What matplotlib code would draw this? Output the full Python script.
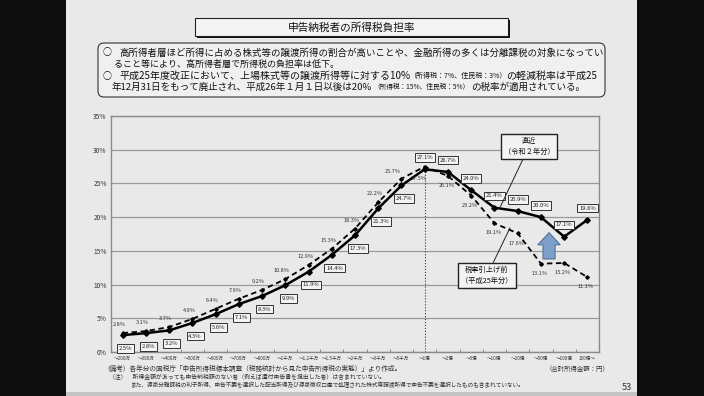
import matplotlib
matplotlib.use('Agg')
import matplotlib.pyplot as plt
from matplotlib.patches import Rectangle, FancyBboxPatch, Polygon
import numpy as np

plt.rcParams['font.family'] = ['Noto Sans CJK JP', 'DejaVu Sans']

# ---------------- data ----------------
categories = ['～200万', '～300万', '～400万', '～500万', '～600万', '～700万', '～800万',
              '～1千万', '～1.2千万', '～1.5千万', '～2千万', '～3千万', '～5千万', '～1億',
              '～2億', '～5億', '～10億', '～20億', '～50億', '～100億', '100億～']
rate_r2 = [2.5, 2.8, 3.2, 4.3, 5.6, 7.1, 8.3, 9.9, 11.9, 14.4, 17.3, 21.3, 24.7, 27.1,
           26.7, 24.0, 21.4, 20.9, 20.0, 17.1, 19.6]
rate_h25 = [2.8, 3.1, 3.7, 4.9, 6.4, 7.9, 9.2, 10.8, 12.9, 15.3, 18.3, 22.2, 25.7, 27.5,
            26.1, 23.2, 19.1, 17.6, 13.1, 13.2, 11.1]
yticks = [0, 5, 10, 15, 20, 25, 30, 35]
ytick_labels = ['0%', '5%', '10%', '15%', '20%', '25%', '30%', '35%']

title = '申告納税者の所得税負担率'
box_lines = [
    (103, 119, 53, [('高所得者層ほど所得に占める株式等の譲渡所得の割合が高いことや、金融所得の多くは分離課税の対象になってい', 1.0)], 599, True),
    (None, 114, 64, [('ること等により、高所得者層で所得税の負担率は低下。', 1.0)], 339, False),
    (103, 119, 76, [('平成25年度改正において、上場株式等の譲渡所得等に対する10%', 1.0),
                    ('（所得税：7%、住民税：3%）', 0.7),
                    ('の軽減税率は平成25', 1.0)], 597, True),
    (None, 112, 87, [('年12月31日をもって廃止され、平成26年１月１日以後は20%', 1.0),
                     ('（所得税：15%、住民税：5%）', 0.7),
                     ('の税率が適用されている。', 1.0)], 585, False),
]
notes = [
    (103, 369, '（備考）各年分の国税庁「申告所得税標本調査（税務統計から見た申告所得税の実態）」より作成。', 402),
    (109, 377, '（注）　所得金額があっても申告納税額のない者（例えば還付申告書を提出した者）は含まれていない。', 383),
    (130, 385, 'また、源泉分離課税の利子所得、申告不要を選択した配当所得及び源泉徴収口座で処理された株式等譲渡所得で申告不要を選択したものも含まれていない。', 528),
]

W, H = 704, 396
fig = plt.figure(figsize=(W / 100, H / 100), dpi=100)
fig.patch.set_facecolor('#0e0e0e')
renderer = fig.canvas.get_renderer()

bg = fig.add_axes([0, 0, 1, 1])
bg.set_xlim(0, W)
bg.set_ylim(H, 0)
bg.axis('off')
SLIDE = '#e9e9e9'
bg.add_patch(Rectangle((66, 0), 571, 396, facecolor=SLIDE, edgecolor='none'))
bg.add_patch(Rectangle((66, 392), 571, 4, facecolor='#c4c4c4', edgecolor='none'))

# title box with shadow
bg.add_patch(Rectangle((197, 20), 313, 18, facecolor='#111111', edgecolor='none'))
bg.add_patch(Rectangle((195, 18), 313, 18, facecolor='#f4f4f4', edgecolor='#222222', lw=0.8))
bg.text(352, 27.5, title, fontsize=7.7, ha='center', va='center', color='#111111')

# description box
bg.add_patch(FancyBboxPatch((98, 43), 507, 54, boxstyle='round,pad=0,rounding_size=6',
                            facecolor='#f0f0f0', edgecolor='#333333', lw=0.8))


def fit_segments(x0, y, segs, x1, base=6.5, color='#111111', axis=bg):
    widths = []
    for s, scale in segs:
        t = axis.text(0, 0, s, fontsize=base * scale)
        widths.append(t.get_window_extent(renderer).width)
        t.remove()
    f = (x1 - x0) / sum(widths)
    x = x0
    for (s, scale), w in zip(segs, widths):
        axis.text(x, y, s, fontsize=base * scale * f, ha='left', va='center', color=color)
        x += w * f


for cx, x0, y, segs, x1, circ in box_lines:
    if circ:
        bg.text(cx, y, '○', fontsize=6.5, ha='left', va='center', color='#111111')
    fit_segments(x0, y, segs, x1)

for x0, y, s, x1 in notes:
    fit_segments(x0, y, [(s, 1.0)], x1, base=4.5, color='#333333')

bg.text(577, 369, '（合計所得金額：円）', fontsize=4.6, ha='center', va='center', color='#333333')
bg.text(627, 388, '53', fontsize=6.5, ha='center', va='center', color='#333333')

# ---------------- chart ----------------
ax = fig.add_axes([111 / W, 1 - 352 / H, (599 - 111) / W, (352 - 116) / H])
ax.set_facecolor(SLIDE)
x = np.arange(len(categories))
ax.set_xlim(-0.5, len(categories) - 0.5)
ax.set_ylim(0, 35)
ax.set_yticks(yticks)
ax.set_yticklabels(ytick_labels, fontsize=4.8, color='#333333')
ax.set_xticks(x)
ax.set_xticklabels(categories, fontsize=3.3, color='#333333')
ax.set_xticks(np.arange(len(categories) + 1) - 0.5, minor=True)
ax.tick_params(axis='both', which='major', length=0, pad=3)
ax.tick_params(axis='x', which='minor', direction='in', length=2.5, color='#777777', width=0.6)
for s in ax.spines.values():
    s.set_color('#8a8a8a')
    s.set_linewidth(1.0)
ax.grid(axis='y', color='#9a9a9a', lw=0.9)
ax.set_axisbelow(True)

ax.plot([x[13], x[13]], [0, rate_h25[13]], ls=':', color='#333333', lw=0.8, zorder=2)
ax.plot(x, rate_h25, color='black', lw=1.3, ls=(0, (3, 2)), marker='D', ms=1.8, zorder=3)
ax.plot(x, rate_r2, color='black', lw=1.8, marker='D', ms=2.8, zorder=4)

for i, v in enumerate(rate_r2):
    off = (2, -9.5) if i <= 12 else (0, 8.5)
    ax.annotate(f'{v:.1f}%', (x[i], v), xytext=off, textcoords='offset points',
                fontsize=4.2, ha='center', va='center', color='#222222',
                bbox=dict(boxstyle='square,pad=0.3', fc='#f3f3f3', ec='#333333', lw=0.7),
                zorder=6)
for i, v in enumerate(rate_h25):
    if i <= 11:
        off = (-2.5, 6)
    elif i == 12:
        off = (-6, 5)
    elif i == 13:
        off = (-4, -8.5)
    else:
        off = (-1, -7)
    ax.annotate(f'{v:.1f}%', (x[i], v), xytext=off, textcoords='offset points',
                fontsize=4.0, ha='center', va='center', color='#333333', zorder=5)

# callout boxes
box_kw = dict(boxstyle='square,pad=0.4', fc='#f3f3f3', ec='#222222', lw=1.0)
ax.annotate('直近\n（令和２年分）', xy=(x[16] + 0.25, rate_r2[16] + 0.1),
            xytext=(529 / W, 1 - 146.5 / H), textcoords='figure fraction',
            fontsize=5.2, ha='center', va='center', color='#111111', linespacing=1.5,
            bbox=box_kw, arrowprops=dict(arrowstyle='-', color='#222222', lw=0.7,
                                         shrinkA=0, shrinkB=0), zorder=7)
ax.annotate('税率引上げ前\n（平成25年分）', xy=(x[16] + 0.67, (rate_h25[16] + rate_h25[17]) / 2 + 0.05),
            xytext=(487 / W, 1 - 275.5 / H), textcoords='figure fraction',
            fontsize=5.2, ha='center', va='center', color='#111111', linespacing=1.5,
            bbox=box_kw, arrowprops=dict(arrowstyle='-', color='#222222', lw=0.7,
                                         shrinkA=0, shrinkB=0), zorder=7)

# blue up arrow
cx, yb, yh, yt = 18.35, 13.8, 15.9, 17.7
bw, hw = 0.26, 0.48
arrow = Polygon([(cx - bw, yb), (cx + bw, yb), (cx + bw, yh), (cx + hw, yh), (cx, yt),
                 (cx - hw, yh), (cx - bw, yh)], closed=True, facecolor='#7d9fca',
                edgecolor='#50729e', lw=0.8, zorder=6)
ax.add_patch(arrow)

fig.savefig('out.png', dpi=100, facecolor=fig.get_facecolor())
